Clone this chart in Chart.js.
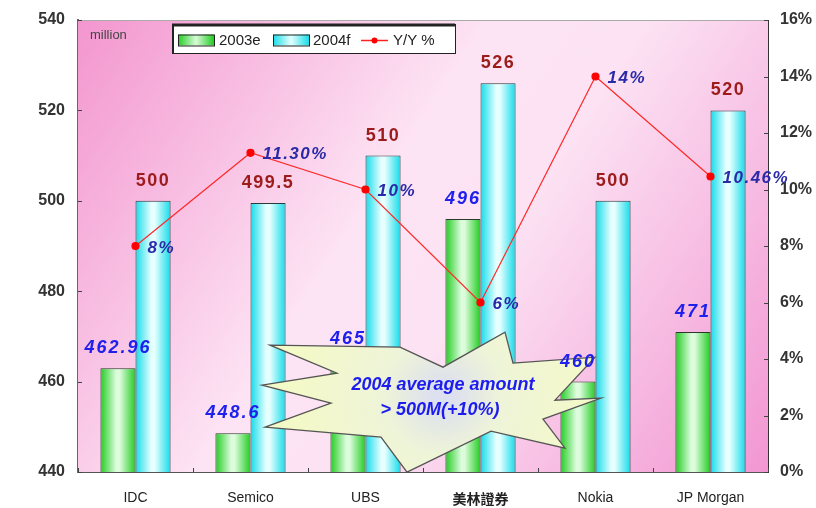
<!DOCTYPE html>
<html>
<head>
<meta charset="utf-8">
<script src="https://cdn.jsdelivr.net/npm/chart.js@4/dist/chart.umd.min.js"></script>
<style>
html,body{margin:0;padding:0;background:#fff;}
#wrap{width:816px;height:508px;position:relative;}
</style>
</head>
<body>
<div id="wrap"><canvas id="c" width="816" height="508"></canvas></div>
<script>
const categories = ['IDC', 'Semico', 'UBS', '美林證券', 'Nokia', 'JP Morgan'];
const est2003 = [462.96, 448.6, 465, 496, 460, 471];
const fc2004 = [500, 499.5, 510, 526, 500, 520];
const yoy = [8, 11.3, 10, 6, 14, 10.46];
const label2003 = ['462.96', '448.6', '465', '496', '460', '471'];
const label2004 = ['500', '499.5', '510', '526', '500', '520'];
const labelYoy = ['8%', '11.30%', '10%', '6%', '14%', '10.46%'];
const seriesNames = ['2003e', '2004f', 'Y/Y %'];
const leftTicks = [440, 460, 480, 500, 520, 540];
const rightTicks = [0, 2, 4, 6, 8, 10, 12, 14, 16];
const unitText = 'million';
const calloutLines = ['2004 average amount', '> 500M(+10%)'];

const CAT_PCT = 0.61;

function barGradient(ctx, dsIndex, light, edge) {
  const chart = ctx.chart;
  const xs = chart.scales && chart.scales.x;
  if (!xs || ctx.dataIndex === undefined) return edge;
  const center = xs.getPixelForValue(ctx.dataIndex);
  const catW = xs.width / categories.length;
  const bw = catW * CAT_PCT / 2;
  const left = dsIndex === 0 ? center - bw : center;
  if (!isFinite(left) || !isFinite(bw) || bw <= 0) return edge;
  const g = chart.ctx.createLinearGradient(left, 0, left + bw, 0);
  g.addColorStop(0, edge);
  g.addColorStop(0.45, light);
  g.addColorStop(0.55, light);
  g.addColorStop(1, edge);
  return g;
}

const bgPlugin = {
  id: 'bg',
  beforeDatasetsDraw(chart) {
    const {ctx, chartArea: a} = chart;
    ctx.save();
    const g = ctx.createLinearGradient(a.left, a.top, a.right, a.bottom);
    g.addColorStop(0, '#f396cf');
    g.addColorStop(0.42, '#fde4f4');
    g.addColorStop(0.58, '#fce2f3');
    g.addColorStop(1, '#f296d2');
    ctx.fillStyle = g;
    ctx.fillRect(a.left, a.top, a.right - a.left, a.bottom - a.top);
    ctx.strokeStyle = '#aaa';
    ctx.lineWidth = 1;
    ctx.beginPath();
    ctx.moveTo(a.left, a.top + 0.5);
    ctx.lineTo(a.right, a.top + 0.5);
    ctx.stroke();
    ctx.strokeStyle = '#444';
    const y = chart.scales.y, y1 = chart.scales.y1, x = chart.scales.x;
    leftTicks.forEach(v => {
      const p = Math.round(y.getPixelForValue(v)) + 0.5;
      ctx.beginPath(); ctx.moveTo(a.left, p); ctx.lineTo(a.left + 4, p); ctx.stroke();
    });
    rightTicks.forEach(v => {
      const p = Math.round(y1.getPixelForValue(v)) + 0.5;
      ctx.beginPath(); ctx.moveTo(a.right - 4, p); ctx.lineTo(a.right, p); ctx.stroke();
    });
    for (let i = 0; i <= categories.length; i++) {
      const p = Math.round(x.getPixelForValue(i - 0.5)) + 0.5;
      ctx.beginPath(); ctx.moveTo(p, a.bottom); ctx.lineTo(p, a.bottom - 4); ctx.stroke();
    }
    ctx.restore();
  },
  afterDatasetsDraw(chart) {
    const {ctx} = chart;
    const xs = chart.scales.x, ys = chart.scales.y;
    const cx = xs.getPixelForValue(2.5);
    const cy = ys.getPixelForValue(457);
    const pts = [[-153,-50],[-23,-48],[20,-28],[82,-63],[90,-32],[172,-38],[132,5],[178,3],[120,24],[142,53],[68,36],[-16,77],[-42,42],[-158,32],[-92,8],[-161,-10],[-86,-22]];
    ctx.save();
    ctx.beginPath();
    pts.forEach((p, i) => {
      const px = cx + p[0], py = cy + p[1];
      if (i === 0) ctx.moveTo(px, py); else ctx.lineTo(px, py);
    });
    ctx.closePath();
    const sg = ctx.createRadialGradient(cx + 20, cy, 10, cx + 20, cy, 150);
    sg.addColorStop(0, '#dde0ee');
    sg.addColorStop(0.35, '#eef4d8');
    sg.addColorStop(1, '#f4f9c8');
    ctx.fillStyle = sg;
    ctx.fill();
    ctx.strokeStyle = '#555';
    ctx.lineWidth = 1.3;
    ctx.stroke();
    ctx.fillStyle = '#1c1cf0';
    ctx.font = 'italic bold 18px "Liberation Sans", Arial, sans-serif';
    ctx.textAlign = 'center';
    ctx.textBaseline = 'middle';
    ctx.fillText(calloutLines[0], cx + 20, cy - 10);
    ctx.fillText(calloutLines[1], cx + 17, cy + 15);
    ctx.restore();

    ctx.save();
    ctx.textBaseline = 'middle';
    ctx.textAlign = 'center';
    const m0 = chart.getDatasetMeta(0), m1 = chart.getDatasetMeta(1), m2 = chart.getDatasetMeta(2);
    ctx.font = 'bold 18px "Liberation Sans", Arial, sans-serif';
    ctx.fillStyle = '#9c1c1c';
    if ('letterSpacing' in ctx) ctx.letterSpacing = '1.5px';
    m1.data.forEach((el, i) => {
      ctx.fillText(label2004[i], el.x, el.y - 20);
    });
    ctx.font = 'italic bold 18px "Liberation Sans", Arial, sans-serif';
    ctx.fillStyle = '#2020ee';
    if ('letterSpacing' in ctx) ctx.letterSpacing = '2px';
    m0.data.forEach((el, i) => {
      ctx.fillText(label2003[i], el.x, el.y - 20);
    });
    ctx.textAlign = 'left';
    ctx.font = 'italic bold 17px "Liberation Sans", Arial, sans-serif';
    ctx.fillStyle = '#2a2aa8';
    if ('letterSpacing' in ctx) ctx.letterSpacing = '1.5px';
    m2.data.forEach((el, i) => {
      ctx.fillText(labelYoy[i], el.x + 12, el.y + 2);
    });
    ctx.restore();
  },
  afterDraw(chart) {
    const {ctx, chartArea: a} = chart;
    ctx.save();
    ctx.font = '13px "Liberation Sans", Arial, sans-serif';
    ctx.fillStyle = '#444';
    ctx.textBaseline = 'middle';
    ctx.fillText(unitText, a.left + 12, a.top + 15);
    const lx = a.left + 94, ly = a.top + 4, lw = 283, lh = 29;
    ctx.fillStyle = '#fff';
    ctx.fillRect(lx, ly, lw, lh);
    ctx.strokeStyle = '#222';
    ctx.lineWidth = 1;
    ctx.strokeRect(lx + 0.5, ly + 0.5, lw, lh);
    ctx.lineWidth = 3;
    ctx.beginPath(); ctx.moveTo(lx, ly + 1); ctx.lineTo(lx + lw, ly + 1); ctx.stroke();
    ctx.lineWidth = 2;
    ctx.beginPath(); ctx.moveTo(lx + 1, ly); ctx.lineTo(lx + 1, ly + lh); ctx.stroke();
    const my = ly + lh / 2 + 2;
    function swatch(x0, edge, light) {
      const g = ctx.createLinearGradient(x0, 0, x0 + 36, 0);
      g.addColorStop(0, edge); g.addColorStop(0.5, light); g.addColorStop(1, edge);
      ctx.fillStyle = g;
      ctx.fillRect(x0, my - 6, 36, 11);
      ctx.strokeStyle = '#222'; ctx.lineWidth = 1;
      ctx.strokeRect(x0 + 0.5, my - 5.5, 36, 11);
    }
    ctx.font = '15px "Liberation Sans", Arial, sans-serif';
    ctx.textBaseline = 'middle';
    swatch(lx + 6, '#22cc22', '#d8fbd8');
    ctx.fillStyle = '#222';
    ctx.fillText(seriesNames[0], lx + 47, my);
    swatch(lx + 101, '#18dde8', '#e4ffff');
    ctx.fillStyle = '#222';
    ctx.fillText(seriesNames[1], lx + 141, my);
    ctx.strokeStyle = '#ff2020'; ctx.lineWidth = 1.5;
    ctx.beginPath(); ctx.moveTo(lx + 189, my); ctx.lineTo(lx + 216, my); ctx.stroke();
    ctx.fillStyle = '#ff0000';
    ctx.beginPath(); ctx.arc(lx + 202.5, my, 3, 0, Math.PI * 2); ctx.fill();
    ctx.fillStyle = '#222';
    ctx.fillText(seriesNames[2], lx + 221, my);
    ctx.restore();
  }
};

new Chart(document.getElementById('c'), {
  data: {
    labels: categories,
    datasets: [
      {
        type: 'bar', label: seriesNames[0], data: est2003, yAxisID: 'y', order: 2,
        backgroundColor: ctx => barGradient(ctx, 0, '#dcfcdc', '#22cc22'),
        borderColor: '#2a3a2a', borderWidth: 1,
        categoryPercentage: CAT_PCT, barPercentage: 1
      },
      {
        type: 'bar', label: seriesNames[1], data: fc2004, yAxisID: 'y', order: 2,
        backgroundColor: ctx => barGradient(ctx, 1, '#e6ffff', '#14dcea'),
        borderColor: '#2a3a3a', borderWidth: 1,
        categoryPercentage: CAT_PCT, barPercentage: 1
      },
      {
        type: 'line', label: seriesNames[2], data: yoy, yAxisID: 'y1', order: 0,
        borderColor: '#ff2a2a', borderWidth: 1.2,
        pointRadius: 3.5, pointBackgroundColor: '#ff0000', pointBorderColor: '#ff0000',
        tension: 0
      }
    ]
  },
  plugins: [bgPlugin],
  options: {
    responsive: false,
    animation: false,
    layout: { padding: { top: 20, left: 0, right: 0, bottom: 0 } },
    plugins: { legend: { display: false }, tooltip: { enabled: false } },
    scales: {
      x: {
        offset: true,
        grid: { display: false },
        border: { display: true, color: '#555', width: 2 },
        ticks: {
          color: '#222', padding: 10,
          font: ctx => ({ family: categories[ctx.index] === '美林證券' ? '"Noto Sans CJK TC", sans-serif' : '"Liberation Sans", Arial, sans-serif', size: 14, weight: categories[ctx.index] === '美林證券' ? 'bold' : 'normal' })
        },
        afterFit: s => { s.height = 36; }
      },
      y: {
        position: 'left', min: 440, max: 540,
        afterBuildTicks: s => { s.ticks = leftTicks.map(v => ({ value: v })); },
        grid: { display: false },
        border: { display: true, color: '#666', width: 2 },
        ticks: { color: '#333', padding: 5, font: { family: '"Liberation Sans", Arial, sans-serif', size: 16, weight: 'bold' } },
        afterFit: s => { s.width = 78; }
      },
      y1: {
        position: 'right', min: 0, max: 16,
        afterBuildTicks: s => { s.ticks = rightTicks.map(v => ({ value: v })); },
        grid: { display: false },
        border: { display: true, color: '#333', width: 1 },
        ticks: { color: '#333', padding: 4, font: { family: '"Liberation Sans", Arial, sans-serif', size: 16, weight: 'bold' }, callback: v => v + '%' },
        afterFit: s => { s.width = 48; }
      }
    }
  }
});
</script>
</body>
</html>
